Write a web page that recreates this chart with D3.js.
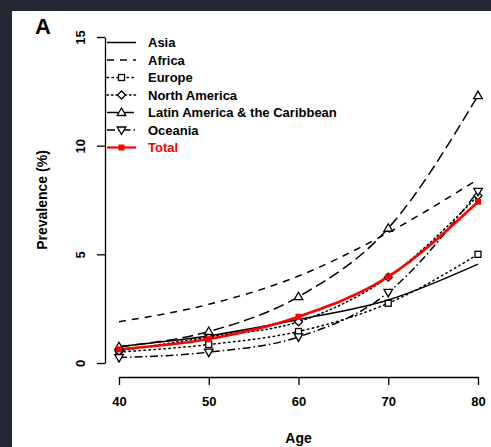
<!DOCTYPE html>
<html>
<head>
<meta charset="utf-8">
<script src="https://cdn.jsdelivr.net/npm/d3@7"></script>
<style>
  body { margin: 0; background: #262831; }
  svg { display: block; }
  text { font-family: "Liberation Sans", Arial, sans-serif; font-weight: bold; }
</style>
</head>
<body>
<svg id="chart" width="491" height="447"></svg>
<script>
// ages on the x axis
var ages = [40, 50, 60, 70, 80];

// prevalence (%) per region
var asia = [0.75, 1.25, 2.0, 2.9, 4.55];
var africa = [1.9, 2.7, 4.0, 6.0, 8.45];
var europe = [0.5, 0.85, 1.45, 2.75, 5.0];
var northAmerica = [0.55, 1.2, 1.9, 3.95, 7.7];
var latinAmerica = [0.75, 1.45, 3.05, 6.2, 12.3];
var oceania = [0.25, 0.5, 1.2, 3.25, 7.9];
var total = [0.63, 1.1, 2.13, 3.97, 7.42];

var yTicks = [0, 5, 10, 15];

var series = [
	{ name: "Asia", values: asia, dash: null, marker: null, color: "#000" },
	{ name: "Africa", values: africa, dash: "7,6", marker: null, color: "#000" },
	{ name: "Europe", values: europe, dash: "1.5,3.5", marker: "square", color: "#000" },
	{ name: "North America", values: northAmerica, dash: "1.5,3", marker: "diamond", color: "#000" },
	{ name: "Latin America & the Caribbean", values: latinAmerica, dash: "11,5", marker: "triangle", color: "#000" },
	{ name: "Oceania", values: oceania, dash: "8,3,1.5,3", marker: "triangleDown", color: "#000" },
	{ name: "Total", values: total, dash: null, marker: "filled", color: "#f00" }
];

var svg = d3.select("#chart");

// dark frame, then the white page area
svg.append("rect")
	.attr("width", 491)
	.attr("height", 447)
	.style("fill", "#262831");

svg.append("rect")
	.attr("x", 12)
	.attr("y", 11)
	.attr("width", 479)
	.attr("height", 436)
	.style("fill", "#fff");

var x = d3.scaleLinear().domain([40, 80]).range([119, 478]);
var y = d3.scaleLinear().domain([0, 15]).range([363, 37]);

// axes
var yAxis = svg.append("g")
	.attr("transform", "translate(105,0)")
	.call(d3.axisLeft(y).tickValues(yTicks).tickSize(8).tickSizeOuter(0));

yAxis.selectAll("text")
	.attr("x", -25)
	.attr("y", 0)
	.attr("dy", "0.35em")
	.attr("transform", "rotate(-90,-25,0)")
	.style("text-anchor", "middle")
	.style("font-size", "13px")
	.style("fill", "#000");

var xAxis = svg.append("g")
	.attr("transform", "translate(0,377)")
	.call(d3.axisBottom(x).tickValues(ages).tickSize(8).tickPadding(12).tickSizeOuter(0));

xAxis.selectAll("text")
	.style("font-size", "13px")
	.style("fill", "#000");

svg.selectAll(".domain, .tick line")
	.style("stroke", "#000")
	.style("stroke-width", 1.3);

// axis titles
svg.append("text")
	.attr("x", x(60))
	.attr("y", 443)
	.style("text-anchor", "middle")
	.style("font-size", "14px")
	.text("Age");

svg.append("text")
	.attr("transform", "translate(47," + y(7.5) + ") rotate(-90)")
	.style("text-anchor", "middle")
	.style("font-size", "14px")
	.text("Prevalence (%)");

svg.append("text")
	.attr("x", 35)
	.attr("y", 34)
	.style("font-size", "22px")
	.text("A");

// markers
function drawMarker(g, type, cx, cy, color) {
	var s = 3;
	if (type == "square") {
		g.append("rect")
		.attr("x", cx - s).attr("y", cy - s)
		.attr("width", 2 * s).attr("height", 2 * s)
		.style("fill", "#fff").style("stroke", color).style("stroke-width", 1.3);
	} else if (type == "diamond") {
		g.append("path")
		.attr("d", "M" + cx + "," + (cy - 4) + "L" + (cx + 4) + "," + cy + "L" + cx + "," + (cy + 4) + "L" + (cx - 4) + "," + cy + "Z")
		.style("fill", "#fff").style("stroke", color).style("stroke-width", 1.3);
	} else if (type == "triangle") {
		g.append("path")
		.attr("d", "M" + cx + "," + (cy - 4.5) + "L" + (cx + 4.3) + "," + (cy + 3) + "L" + (cx - 4.3) + "," + (cy + 3) + "Z")
		.style("fill", "#fff").style("stroke", color).style("stroke-width", 1.3);
	} else if (type == "triangleDown") {
		g.append("path")
		.attr("d", "M" + cx + "," + (cy + 4.5) + "L" + (cx + 4.3) + "," + (cy - 3) + "L" + (cx - 4.3) + "," + (cy - 3) + "Z")
		.style("fill", "#fff").style("stroke", color).style("stroke-width", 1.3);
	} else if (type == "filled") {
		g.append("rect")
		.attr("x", cx - 3).attr("y", cy - 3)
		.attr("width", 6).attr("height", 6)
		.style("fill", color);
	}
}

var line = d3.line()
	.x(function (d, i) { return x(ages[i]); })
	.y(function (d) { return y(d); })
	.curve(d3.curveMonotoneX);

var plot = svg.append("g");

series.forEach(function (s) {
	plot.append("path")
	.attr("d", line(s.values))
	.style("fill", "none")
	.style("stroke", s.color)
	.style("stroke-width", s.name == "Total" ? 2.6 : 1.5)
	.style("stroke-dasharray", s.dash)
	.style("stroke-linecap", s.dash && s.dash.indexOf("1.5") == 0 ? "round" : "butt");
});

series.forEach(function (s) {
	if (!s.marker) return;
	var g = plot.append("g");
	s.values.forEach(function (v, i) {
		drawMarker(g, s.marker, x(ages[i]), y(v), s.color);
	});
});

// legend
var legend = svg.append("g");
series.forEach(function (s, i) {
	var ly = 42.5 + i * 17.5;
	legend.append("line")
	.attr("x1", 107).attr("x2", 136)
	.attr("y1", ly).attr("y2", ly)
	.style("stroke", s.color)
	.style("stroke-width", s.name == "Total" ? 2.2 : 1.5)
	.style("stroke-dasharray", s.dash)
	.style("stroke-linecap", s.dash && s.dash.indexOf("1.5") == 0 ? "round" : "butt");
	if (s.marker) drawMarker(legend, s.marker, 121.5, ly, s.color);
	legend.append("text")
	.attr("x", 148)
	.attr("y", ly)
	.attr("dy", "0.36em")
	.style("font-size", "13px")
	.style("fill", s.name == "Total" ? "#f00" : "#000")
	.text(s.name);
});
</script>
</body>
</html>
